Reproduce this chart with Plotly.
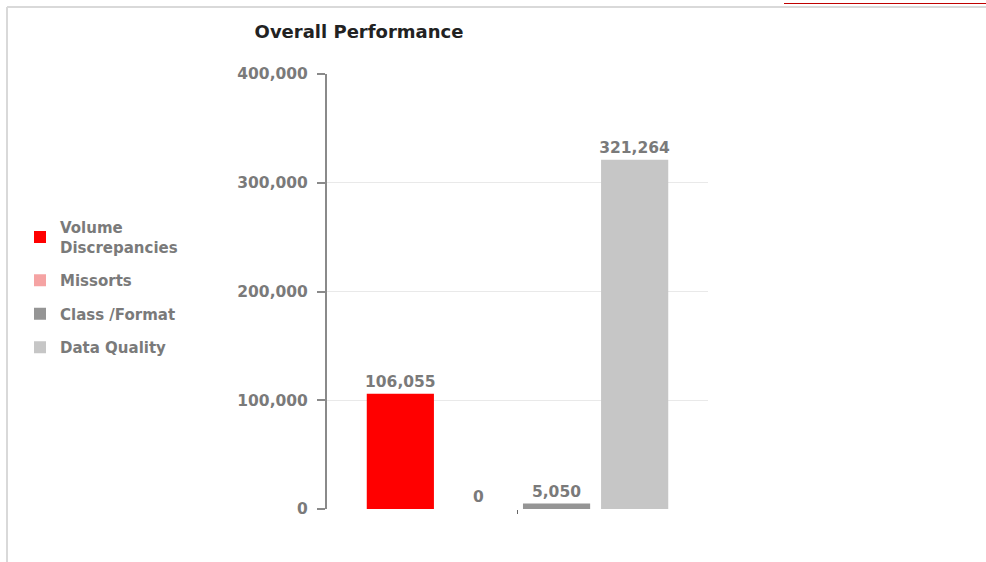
import plotly.graph_objects as go

# Overall performance totals per measure
category = [" "]
series_names = ["Volume<br>Discrepancies", "Missorts", "Class /Format", "Data Quality"]
series_values = [106055, 0, 5050, 321264]
series_colors = ["#ff0000", "#f5a3a3", "#959595", "#c6c6c6"]
y_ticks = [0, 100000, 200000, 300000, 400000]

W, H = 986, 562
L, R, T, B = 327, 278, 74, 53
pw, ph = W - L - R, H - T - B


def px_x(x):
    return (x - L) / pw


def px_y(y):
    return (H - B - y) / ph


label_font = dict(family="DejaVu Sans", size=15.5, color="#7a7a7a", weight="bold")

fig = go.Figure()
for i, (name, val, col) in enumerate(zip(series_names, series_values, series_colors)):
    fig.add_trace(go.Bar(
        x=category, y=[val], name=name, marker=dict(color=col, line=dict(width=0)),
        text=[val], texttemplate="%{y:,}", textposition="outside",
        textfont=label_font, constraintext="none", cliponaxis=False,
        legendgroup=f"g{i}",
    ))

fig.update_layout(
    width=W, height=H,
    margin=dict(l=L, r=R, t=T, b=B),
    paper_bgcolor="white", plot_bgcolor="white",
    barmode="group", bargap=0.18, bargroupgap=0.14,
    title=dict(text="<b>Overall Performance</b>", x=359 / W, xanchor="center",
               xref="container", y=1 - 32 / H, yref="container", yanchor="middle",
               font=dict(family="DejaVu Sans", size=18, color="#222222")),
    legend=dict(x=px_x(20), xanchor="left", y=px_y(211), yanchor="top",
                traceorder="grouped", tracegroupgap=11, itemwidth=30,
                font=dict(family="DejaVu Sans", size=15, color="#7a7a7a", weight="bold"),
                bgcolor="rgba(0,0,0,0)"),
    showlegend=True,
    xaxis=dict(showline=False, showgrid=False, zeroline=False,
               ticks="outside", ticklen=4, tickcolor="#666666", tickwidth=1,
               showticklabels=False),
    yaxis=dict(range=[0, 400000], tickvals=y_ticks, tickformat=",",
               showline=True, linecolor="#8a8a8a", linewidth=2,
               ticks="outside", ticklen=8, tickcolor="#8a8a8a", tickwidth=2,
               ticklabelstandoff=6,
               gridcolor="#e9e9e9", gridwidth=1, zeroline=False,
               tickfont=label_font),
)

# page frame lines
fig.add_shape(type="line", xref="paper", yref="paper",
              x0=px_x(7), x1=px_x(7), y0=px_y(7), y1=px_y(562),
              line=dict(color="#d9d9d9", width=2))
fig.add_shape(type="line", xref="paper", yref="paper",
              x0=px_x(7), x1=px_x(986), y0=px_y(7), y1=px_y(7),
              line=dict(color="#d9d9d9", width=2))
fig.add_shape(type="line", xref="paper", yref="paper",
              x0=px_x(784), x1=px_x(986), y0=px_y(3.5), y1=px_y(3.5),
              line=dict(color="#c00000", width=1))

fig.write_html("out.html")
